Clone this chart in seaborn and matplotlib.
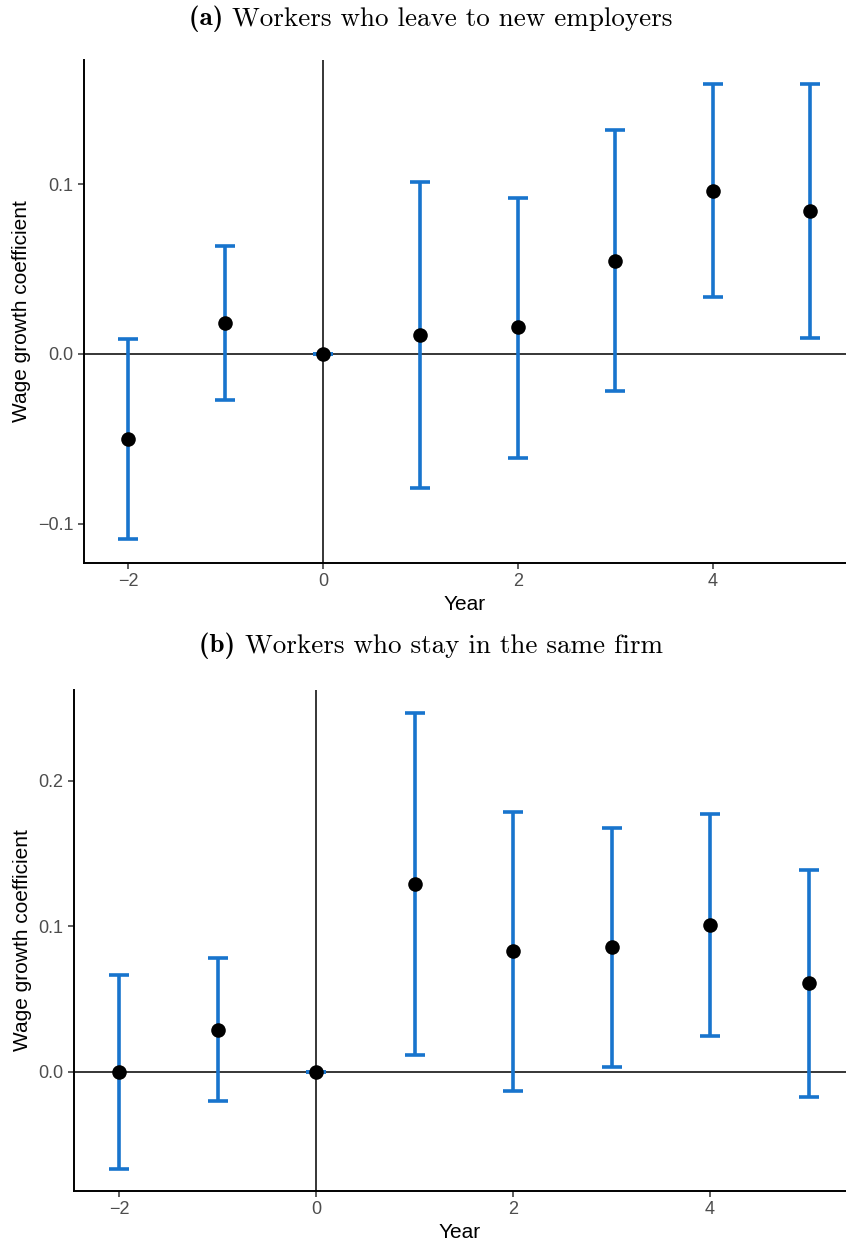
import matplotlib
matplotlib.use("Agg")
import matplotlib.pyplot as plt
import seaborn as sns
import numpy as np
import pandas as pd

# Event-study estimates: wage growth coefficients with confidence bounds
years = [-2, -1, 0, 1, 2, 3, 4, 5]

leave_coef = [-0.050, 0.018, 0.000, 0.011, 0.016, 0.055, 0.096, 0.084]
leave_lo = [-0.109, -0.027, 0.000, -0.079, -0.061, -0.022, 0.0335, 0.0095]
leave_hi = [0.0088, 0.0635, 0.000, 0.101, 0.092, 0.132, 0.159, 0.159]

stay_coef = [0.000, 0.029, 0.000, 0.129, 0.083, 0.086, 0.101, 0.061]
stay_lo = [-0.0667, -0.020, 0.000, 0.0115, -0.013, 0.0036, 0.0245, -0.017]
stay_hi = [0.0667, 0.078, 0.000, 0.2465, 0.179, 0.168, 0.1775, 0.139]

x_ticks = [-2, 0, 2, 4]
x_tick_labels = ["\u22122", "0", "2", "4"]
leave_y_ticks = [-0.1, 0.0, 0.1]
leave_y_labels = ["\u22120.1", "0.0", "0.1"]
stay_y_ticks = [0.0, 0.1, 0.2]
stay_y_labels = ["0.0", "0.1", "0.2"]

titles = [("(a)", "Workers who leave to new employers"),
          ("(b)", "Workers who stay in the same firm")]

sns.set_style("ticks")
plt.rcParams["font.family"] = ["Liberation Sans", "DejaVu Sans"]
plt.rcParams["text.color"] = "black"
plt.rcParams["axes.labelcolor"] = "black"

BLUE = "#1874CD"
W, H = 846, 1247
fig = plt.figure(figsize=(W / 100, H / 100), dpi=100)


def px_axes(left, top, right, bottom):
    return fig.add_axes([left / W, 1 - bottom / H, (right - left) / W, (bottom - top) / H])


def panel(ax, coef, lo, hi, yticks, ylabels, xlim, ylim):
    df = pd.DataFrame({"Year": years, "coef": coef, "lo": lo, "hi": hi})
    ax.axhline(0, color="black", lw=1.1, zorder=1)
    ax.axvline(0, color="black", lw=1.1, zorder=1)
    yerr = np.vstack([df["coef"] - df["lo"], df["hi"] - df["coef"]])
    ax.errorbar(df["Year"], df["coef"], yerr=yerr, fmt="none", ecolor=BLUE,
                elinewidth=2.6, capsize=7.5, capthick=2.6, zorder=2)
    sns.scatterplot(data=df, x="Year", y="coef", ax=ax, color="black", s=110,
                    edgecolor="black", linewidth=0, zorder=3)
    ax.set_xlim(*xlim)
    ax.set_ylim(*ylim)
    ax.set_xticks(x_ticks)
    ax.set_xticklabels(x_tick_labels)
    ax.set_yticks(yticks)
    ax.set_yticklabels(ylabels)
    ax.tick_params(axis="both", labelsize=13, labelcolor="#4D4D4D", color="#333333",
                   length=4, width=1.1, pad=3.5)
    ax.set_xlabel("Year", fontsize=15, labelpad=3, color="black")
    ax.set_ylabel("Wage growth coefficient", fontsize=15, labelpad=5, color="black")
    for side in ["top", "right"]:
        ax.spines[side].set_visible(False)
    for side in ["left", "bottom"]:
        ax.spines[side].set_linewidth(1.4)
        ax.spines[side].set_color("black")


ax1 = px_axes(84, 60, 846, 563)
panel(ax1, leave_coef, leave_lo, leave_hi, leave_y_ticks, leave_y_labels,
      (-2.45, 5.365), (-0.123, 0.173))

ax2 = px_axes(74, 690, 846, 1191)
panel(ax2, stay_coef, stay_lo, stay_hi, stay_y_ticks, stay_y_labels,
      (-2.457, 5.38), (-0.0818, 0.2625))


def panel_title(y_px, tag, text):
    t1 = fig.text(0, 0, tag + " ", fontfamily="cmb10", fontsize=19.5, va="center",
                  color="black")
    t2 = fig.text(0, 0, text, fontfamily="cmr10", fontsize=19.5, va="center",
                  color="black")
    fig.canvas.draw()
    r = fig.canvas.get_renderer()
    w1 = t1.get_window_extent(r).width
    w2 = t2.get_window_extent(r).width
    x0 = 431 - (w1 + w2) / 2
    t1.set_position((x0 / W, 1 - y_px / H))
    t2.set_position(((x0 + w1) / W, 1 - y_px / H))


panel_title(19, *titles[0])
panel_title(646, *titles[1])

fig.savefig("out.png", dpi=100)
